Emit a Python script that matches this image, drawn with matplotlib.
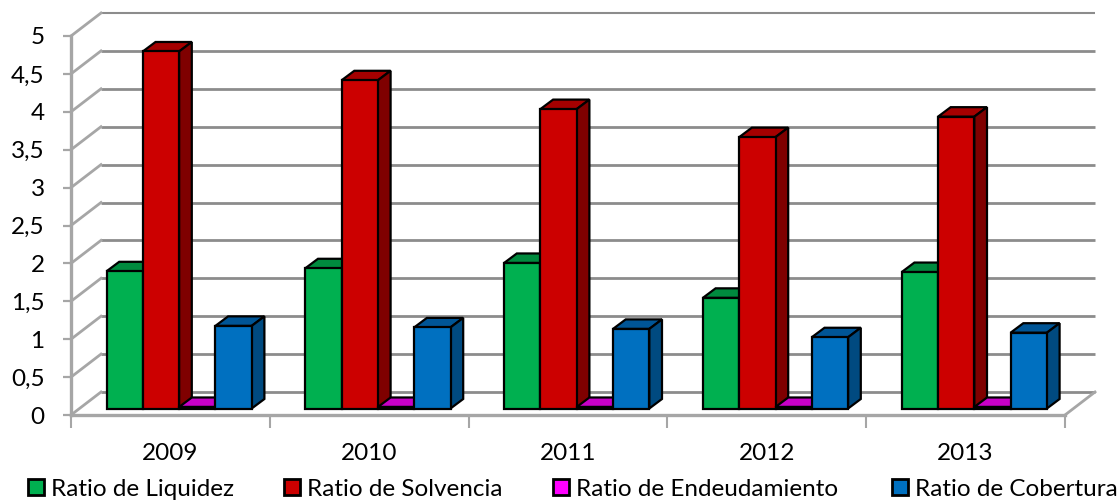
import matplotlib
matplotlib.use("Agg")
import matplotlib.pyplot as plt
from matplotlib.patches import Polygon, Patch

plt.rcParams['font.family'] = ['Lato', 'DejaVu Sans']

years = ['2009', '2010', '2011', '2012', '2013']
liquidez = [1.81, 1.85, 1.92, 1.46, 1.80]
solvencia = [4.71, 4.33, 3.95, 3.58, 3.85]
endeudamiento = [0.02, 0.02, 0.02, 0.02, 0.02]
cobertura = [1.09, 1.07, 1.05, 0.94, 1.00]
names = ['Ratio de Liquidez', 'Ratio de Solvencia', 'Ratio de Endeudamiento', 'Ratio de Cobertura']
y_ticks = [0, 0.5, 1, 1.5, 2, 2.5, 3, 3.5, 4, 4.5, 5]
y_labels = ['0', '0,5', '1', '1,5', '2', '2,5', '3', '3,5', '4', '4,5', '5']

series = [liquidez, solvencia, endeudamiento, cobertura]
front = ['#00B050', '#CC0000', '#FF00FF', '#0070C0']
top = ['#008A3E', '#A50000', '#C800C8', '#005596']
side = ['#006B31', '#7F0000', '#8F008F', '#004A80']
legend_x = [28, 284, 553, 892]

W, H = 1120, 500
fig = plt.figure(figsize=(W / 100, H / 100), dpi=100, facecolor='white')
L, R, T, B = 71, 1065, 36, 415
ax = fig.add_axes([L / W, 1 - B / H, (R - L) / W, (B - T) / H])
ax.set_xlim(0, 5)
ax.set_ylim(0, 5)
ax.patch.set_alpha(0)

px = (R - L) / 5      # pixels per category
py = (B - T) / 5      # pixels per unit
wall_dx, wall_dy = 30 / px, 23 / py
bar_dx, bar_dy = 12.7 / px, 9.5 / py
bar_w = 36.3 / px
bar_x0 = 35.5 / px
bar_y0 = 6.5 / py

grid_c = '#8C8C8C'
axis_c = '#A6A6A6'
for v in y_ticks:
    ax.plot([wall_dx, 5 + wall_dx], [v + wall_dy] * 2, color=grid_c,
            lw=2.0 if v != 5 else 1.5, clip_on=False, zorder=1, solid_capstyle='butt')
    ax.plot([0, wall_dx], [v, v + wall_dy], color=axis_c, lw=2.0, clip_on=False, zorder=1)
ax.plot([5, 5 + wall_dx], [0, wall_dy], color=axis_c, lw=2.0, clip_on=False, zorder=1)

for s, vals in enumerate(series):
    offs = [i + bar_x0 + s * bar_w for i in range(len(years))]
    ax.bar(offs, vals, width=bar_w, bottom=bar_y0, align='edge', color=front[s],
           edgecolor='black', linewidth=1.6, zorder=3 + s * 2, clip_on=False)
    for x, v in zip(offs, vals):
        y = bar_y0 + v
        ax.add_patch(Polygon([(x, y), (x + bar_dx, y + bar_dy),
                              (x + bar_w + bar_dx, y + bar_dy), (x + bar_w, y)],
                             closed=True, fc=top[s], ec='black', lw=1.6,
                             zorder=2 + s * 2, clip_on=False))
        ax.add_patch(Polygon([(x + bar_w, bar_y0), (x + bar_w + bar_dx, bar_y0 + bar_dy),
                              (x + bar_w + bar_dx, y + bar_dy), (x + bar_w, y)],
                             closed=True, fc=side[s], ec='black', lw=1.6,
                             zorder=2 + s * 2, clip_on=False))

for sp in ('top', 'right'):
    ax.spines[sp].set_visible(False)
for sp in ('left', 'bottom'):
    ax.spines[sp].set_color(axis_c)
    ax.spines[sp].set_linewidth(2.4)
    ax.spines[sp].set_zorder(2)

ax.set_yticks(y_ticks)
ax.set_yticklabels(y_labels)
ax.set_xticks(range(6))
ax.set_xticklabels([])
ax.set_xticks([i + 0.5 for i in range(5)], minor=True)
ax.set_xticklabels(years, minor=True)
ax.tick_params(axis='y', length=6, width=1.6, color=axis_c, labelsize=17.5, labelcolor='black', pad=13)
ax.tick_params(axis='x', which='major', length=9, width=1.5, color=axis_c)
ax.tick_params(axis='x', which='minor', length=0, labelsize=17.5, labelcolor='black', pad=20)

for s, name in enumerate(names):
    fig.legend(handles=[Patch(facecolor=front[s], edgecolor='black', linewidth=2.0, label=name)],
               loc='center left', bbox_to_anchor=(legend_x[s] / W, 1 - 489 / H),
               frameon=False, fontsize=17.5, borderpad=0, borderaxespad=0,
               handlelength=0.65, handleheight=0.65, handletextpad=0.3, labelcolor='black')

fig.savefig('out.png', dpi=100, facecolor='white')
